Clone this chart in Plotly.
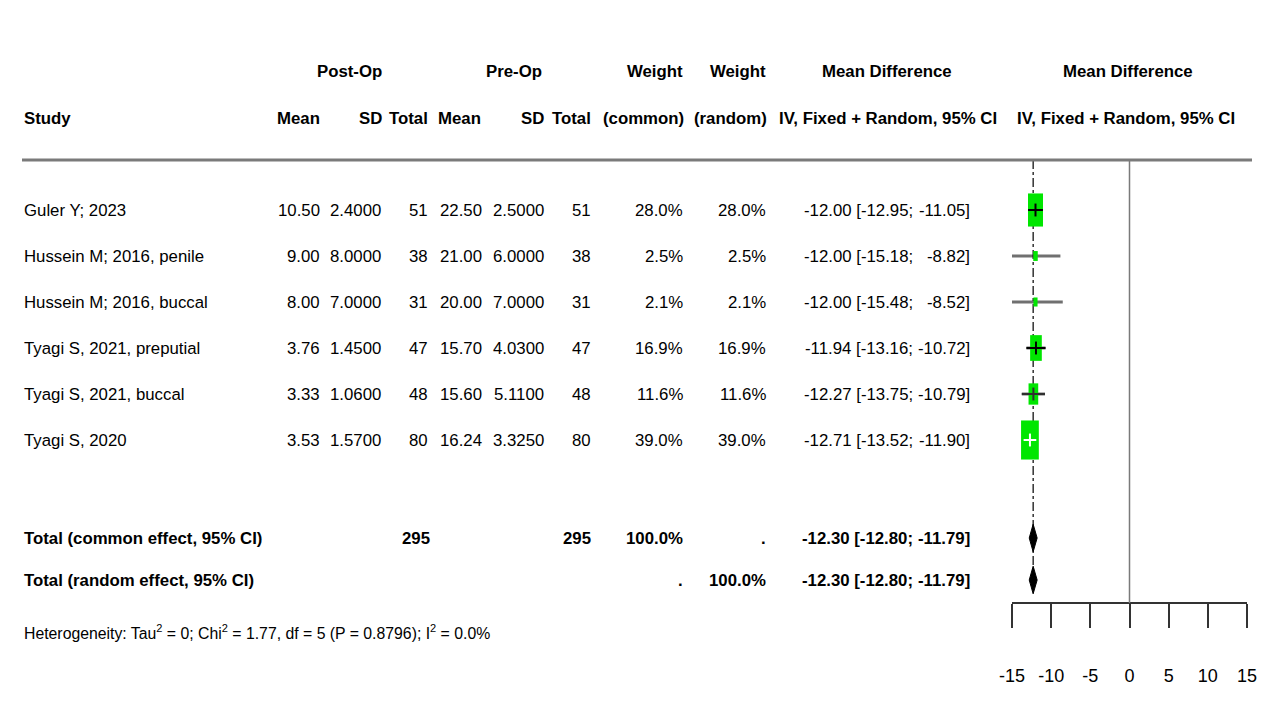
import plotly.graph_objects as go
import numpy as np

# ---- data ----
studies = ["Guler Y; 2023", "Hussein M; 2016, penile", "Hussein M; 2016, buccal",
           "Tyagi S, 2021, preputial", "Tyagi S, 2021, buccal", "Tyagi S, 2020"]
post_mean = [10.50, 9.00, 8.00, 3.76, 3.33, 3.53]
post_sd = [2.4000, 8.0000, 7.0000, 1.4500, 1.0600, 1.5700]
post_n = [51, 38, 31, 47, 48, 80]
pre_mean = [22.50, 21.00, 20.00, 15.70, 15.60, 16.24]
pre_sd = [2.5000, 6.0000, 7.0000, 4.0300, 5.1100, 3.3250]
pre_n = [51, 38, 31, 47, 48, 80]
w_common = [28.0, 2.5, 2.1, 16.9, 11.6, 39.0]
w_random = [28.0, 2.5, 2.1, 16.9, 11.6, 39.0]
md = [-12.00, -12.00, -12.00, -11.94, -12.27, -12.71]
ci_lo = [-12.95, -15.18, -15.48, -13.16, -13.75, -13.52]
ci_hi = [-11.05, -8.82, -8.52, -10.72, -10.79, -11.90]

pooled_md = -12.30
pooled_lo = -12.80
pooled_hi = -11.79
total_post = 295
total_pre = 295

tau2 = 0
chi2 = 1.77
df_het = 5
p_het = 0.8796
i2 = 0.0

x_ticks = [-15, -10, -5, 0, 5, 10, 15]

# ---- layout helpers (positions given in page pixels) ----
PAGE_W, PAGE_H = 1268, 703
OFF = 8                        # default body margin of the html page
W, H = PAGE_W - 2 * OFF, PAGE_H - 2 * OFF
ROW0, ROWH = 210, 46           # page-pixel centre of first study row, row height


def prow(py):
    return (py - ROW0) / ROWH


def px(x):
    return (x - OFF) / W


FONT = "Liberation Sans Narrow, Arial Narrow, Liberation Sans, Arial"
FS = 16.8
GREEN = "#00e600"

n = len(studies)
rows = list(range(n))
r_common = prow(538)
r_random = prow(580)
r_het = prow(632)
r_head1 = prow(71)
r_head2 = prow(118)
r_sep = prow(160)
r_axis = prow(603)

fig = go.Figure()

# vertical reference lines
fig.add_shape(type="line", xref="x", yref="y", x0=0, x1=0, y0=r_sep, y1=r_axis,
              line=dict(color="#7a7a7a", width=1.5))
fig.add_shape(type="line", xref="x", yref="y", x0=pooled_md, x1=pooled_md,
              y0=r_sep, y1=r_random + 0.2,
              line=dict(color="black", width=1.2, dash="dashdot"))

# separator under the header
fig.add_shape(type="line", xref="paper", yref="y", x0=px(22), x1=px(1252),
              y0=r_sep, y1=r_sep, line=dict(color="#7a7a7a", width=3))

# CI lines (outer part)
ci_colors = ["black", "#707070", "#707070", "black", "#303030", "white"]
for i in range(n):
    fig.add_trace(go.Scatter(x=[ci_lo[i], ci_hi[i]], y=[rows[i], rows[i]], mode="lines",
                             line=dict(color="#707070", width=3), showlegend=False,
                             hoverinfo="skip"))

# weight squares (area ~ weight)
kx, ky = 0.363, 0.136
for i in range(n):
    s = np.sqrt(w_common[i])
    fig.add_shape(type="rect", xref="x", yref="y",
                  x0=md[i] - kx * s / 2, x1=md[i] + kx * s / 2,
                  y0=rows[i] - ky * s / 2, y1=rows[i] + ky * s / 2,
                  fillcolor=GREEN, line=dict(width=0), layer="above")

# inner CI lines + centre cross
for i in range(n):
    col = ci_colors[i]
    if col == "#707070":
        continue
    fig.add_shape(type="line", xref="x", yref="y", x0=ci_lo[i], x1=ci_hi[i],
                  y0=rows[i], y1=rows[i], line=dict(color=col, width=2), layer="above")
    fig.add_shape(type="line", xref="x", yref="y", x0=md[i], x1=md[i],
                  y0=rows[i] - 0.14, y1=rows[i] + 0.14, line=dict(color=col, width=2),
                  layer="above")

# pooled diamonds
for r in (r_common, r_random):
    fig.add_trace(go.Scatter(
        x=[pooled_lo, pooled_md, pooled_hi, pooled_md, pooled_lo],
        y=[r, r - 0.3, r, r + 0.3, r], mode="lines", fill="toself",
        fillcolor="black", line=dict(color="black", width=1),
        showlegend=False, hoverinfo="skip"))

annotations = []


def txt(x, y, s, anchor="right", bold=False, size=FS):
    if bold:
        s = "<b>" + s + "</b>"
    annotations.append(dict(x=px(x), y=y, xref="paper", yref="y", text=s,
                            showarrow=False, xanchor=anchor, yanchor="middle",
                            borderpad=0,
                            font=dict(family=FONT, size=size, color="black")))


# header
txt(349, r_head1, "Post-Op", "center", True)
txt(514, r_head1, "Pre-Op", "center", True)
txt(684, r_head1, "Weight", "right", True)
txt(767, r_head1, "Weight", "right", True)
txt(887, r_head1, "Mean Difference", "center", True)
txt(1128, r_head1, "Mean Difference", "center", True)
txt(23, r_head2, "Study", "left", True)
txt(321, r_head2, "Mean", "right", True)
txt(383, r_head2, "SD", "right", True)
txt(429, r_head2, "Total", "right", True)
txt(482, r_head2, "Mean", "right", True)
txt(545, r_head2, "SD", "right", True)
txt(592, r_head2, "Total", "right", True)
txt(685, r_head2, "(common)", "right", True)
txt(768, r_head2, "(random)", "right", True)
txt(888, r_head2, "IV, Fixed + Random, 95% CI", "center", True)
txt(1126, r_head2, "IV, Fixed + Random, 95% CI", "center", True)

# study rows
for i in range(n):
    r = rows[i]
    txt(23, r, studies[i], "left")
    txt(321, r, f"{post_mean[i]:.2f}")
    txt(382, r, f"{post_sd[i]:.4f}")
    txt(429, r, f"{post_n[i]}")
    txt(483, r, f"{pre_mean[i]:.2f}")
    txt(545, r, f"{pre_sd[i]:.4f}")
    txt(592, r, f"{pre_n[i]}")
    txt(684, r, f"{w_common[i]:.1f}%")
    txt(767, r, f"{w_random[i]:.1f}%")
    txt(914, r, f"{md[i]:.2f} [{ci_lo[i]:.2f};")
    txt(971, r, f"{ci_hi[i]:.2f}]")

# totals
txt(23, r_common, "Total (common effect, 95% CI)", "left", True)
txt(431, r_common, f"{total_post}", "right", True)
txt(592, r_common, f"{total_pre}", "right", True)
txt(684, r_common, "100.0%", "right", True)
txt(767, r_common, ".", "right", True)
txt(914, r_common, f"{pooled_md:.2f} [{pooled_lo:.2f};", "right", True)
txt(971, r_common, f"{pooled_hi:.2f}]", "right", True)

txt(23, r_random, "Total (random effect, 95% CI)", "left", True)
txt(684, r_random, ".", "right", True)
txt(767, r_random, "100.0%", "right", True)
txt(914, r_random, f"{pooled_md:.2f} [{pooled_lo:.2f};", "right", True)
txt(971, r_random, f"{pooled_hi:.2f}]", "right", True)

txt(23, r_het,
    f"Heterogeneity: Tau<sup>2</sup> = {tau2}; Chi<sup>2</sup> = {chi2:.2f}, df = {df_het} "
    f"(P = {p_het:.4f}); I<sup>2</sup> = {i2:.1f}%", "left", False, 15.8)

fig.update_layout(
    width=W, height=H, margin=dict(l=0, r=0, t=0, b=0, autoexpand=False),
    paper_bgcolor="white", plot_bgcolor="white",
    annotations=annotations, showlegend=False,
    xaxis=dict(domain=[px(1012), px(1247)], range=[-15, 15], tickvals=x_ticks,
               ticktext=[str(t) for t in x_ticks],
               showgrid=False, zeroline=False, showline=True, linecolor="#333",
               linewidth=2, ticks="outside", ticklen=24, tickwidth=1.5,
               tickcolor="#333", anchor="free", position=1 - (603 - OFF) / H,
               tickangle=0, automargin=False,
               tickfont=dict(family=FONT, size=18, color="black"),
               ticklabelstandoff=32),
    yaxis=dict(domain=[0, 1], range=[prow(PAGE_H - OFF), prow(OFF)], visible=False,
               automargin=False),
)

fig.write_html("out.html")
